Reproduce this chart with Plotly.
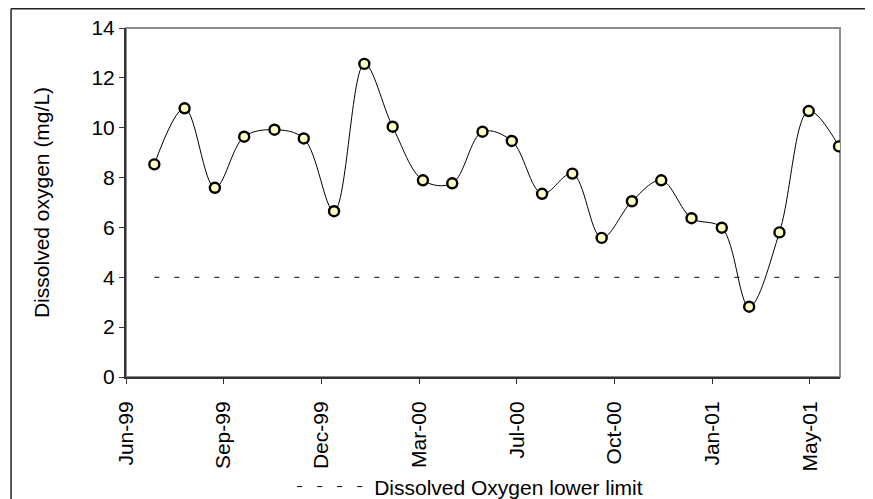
import plotly.graph_objects as go

# monthly samples (end of month), Jun-99 .. May-01
dates = ['1999-06-30', '1999-07-31', '1999-08-31', '1999-09-30', '1999-10-31', '1999-11-30',
         '1999-12-31', '2000-01-31', '2000-02-29', '2000-03-31', '2000-04-30', '2000-05-31',
         '2000-06-30', '2000-07-31', '2000-08-31', '2000-09-30', '2000-10-31', '2000-11-30',
         '2000-12-31', '2001-01-31', '2001-02-28', '2001-03-31', '2001-04-30', '2001-05-31']
do_mgl = [8.53, 10.78, 7.59, 9.64, 9.92, 9.57, 6.65, 12.56, 10.04, 7.89, 7.77, 9.84,
          9.47, 7.35, 8.16, 5.58, 7.05, 7.89, 6.37, 5.99, 2.82, 5.80, 10.67, 9.25]
lower_limit = 4
limit_name = 'Dissolved Oxygen lower limit'

font = dict(family='Liberation Sans, Arial, sans-serif', size=21, color='black')

fig = go.Figure()
fig.add_trace(go.Scatter(
    x=[dates[0], dates[-1]], y=[lower_limit, lower_limit],
    mode='lines', name=limit_name,
    line=dict(color='black', width=1, dash='5px,15px'),
    hoverinfo='skip'))
fig.add_trace(go.Scatter(
    x=dates, y=do_mgl, mode='lines+markers', showlegend=False,
    line=dict(color='black', width=1, shape='spline', smoothing=1),
    marker=dict(size=10, color='#FFFFC4', line=dict(color='black', width=2.4))))

fig.update_xaxes(
    type='date', range=['1999-06-01', '2001-06-01'],
    tick0='1999-06-01', dtick=100 * 86400000, tickformat='%b-%y',
    tickangle=-90, ticks='outside', ticklen=5, tickcolor='#333',
    ticklabelstandoff=9,
    showline=True, linecolor='#333', linewidth=2,
    showgrid=False, zeroline=False, tickfont=font)
fig.update_yaxes(
    range=[0, 14], dtick=2, ticks='outside', ticklen=5, tickcolor='#333',
    showline=True, linecolor='#333', linewidth=2,
    showgrid=False, zeroline=False, tickfont=font,
    title=dict(text='Dissolved oxygen (mg/L)', font=font, standoff=36))

# page body adds an 8px offset, so the figure is 8px smaller than the window
fig.update_layout(
    width=865, height=491,
    margin=dict(l=118, r=33, t=20, b=122, autoexpand=False),
    paper_bgcolor='white', plot_bgcolor='white',
    font=font,
    legend=dict(orientation='h', x=0.482, y=-0.315, xanchor='center', yanchor='middle',
                itemwidth=72, font=font, bgcolor='rgba(0,0,0,0)'),
    shapes=[
        dict(type='rect', xref='paper', yref='paper', x0=0, x1=1, y0=0, y1=1,
             line=dict(color='#8c8c8c', width=2), layer='below'),
        dict(type='line', xref='paper', yref='paper', x0=-0.161, x1=1.06, y0=1.055, y1=1.055,
             line=dict(color='#222', width=1.5)),
        dict(type='line', xref='paper', yref='paper', x0=-0.161, x1=-0.161, y0=1.055, y1=-0.36,
             line=dict(color='#222', width=1.5)),
    ])

fig.write_html('out.html')
